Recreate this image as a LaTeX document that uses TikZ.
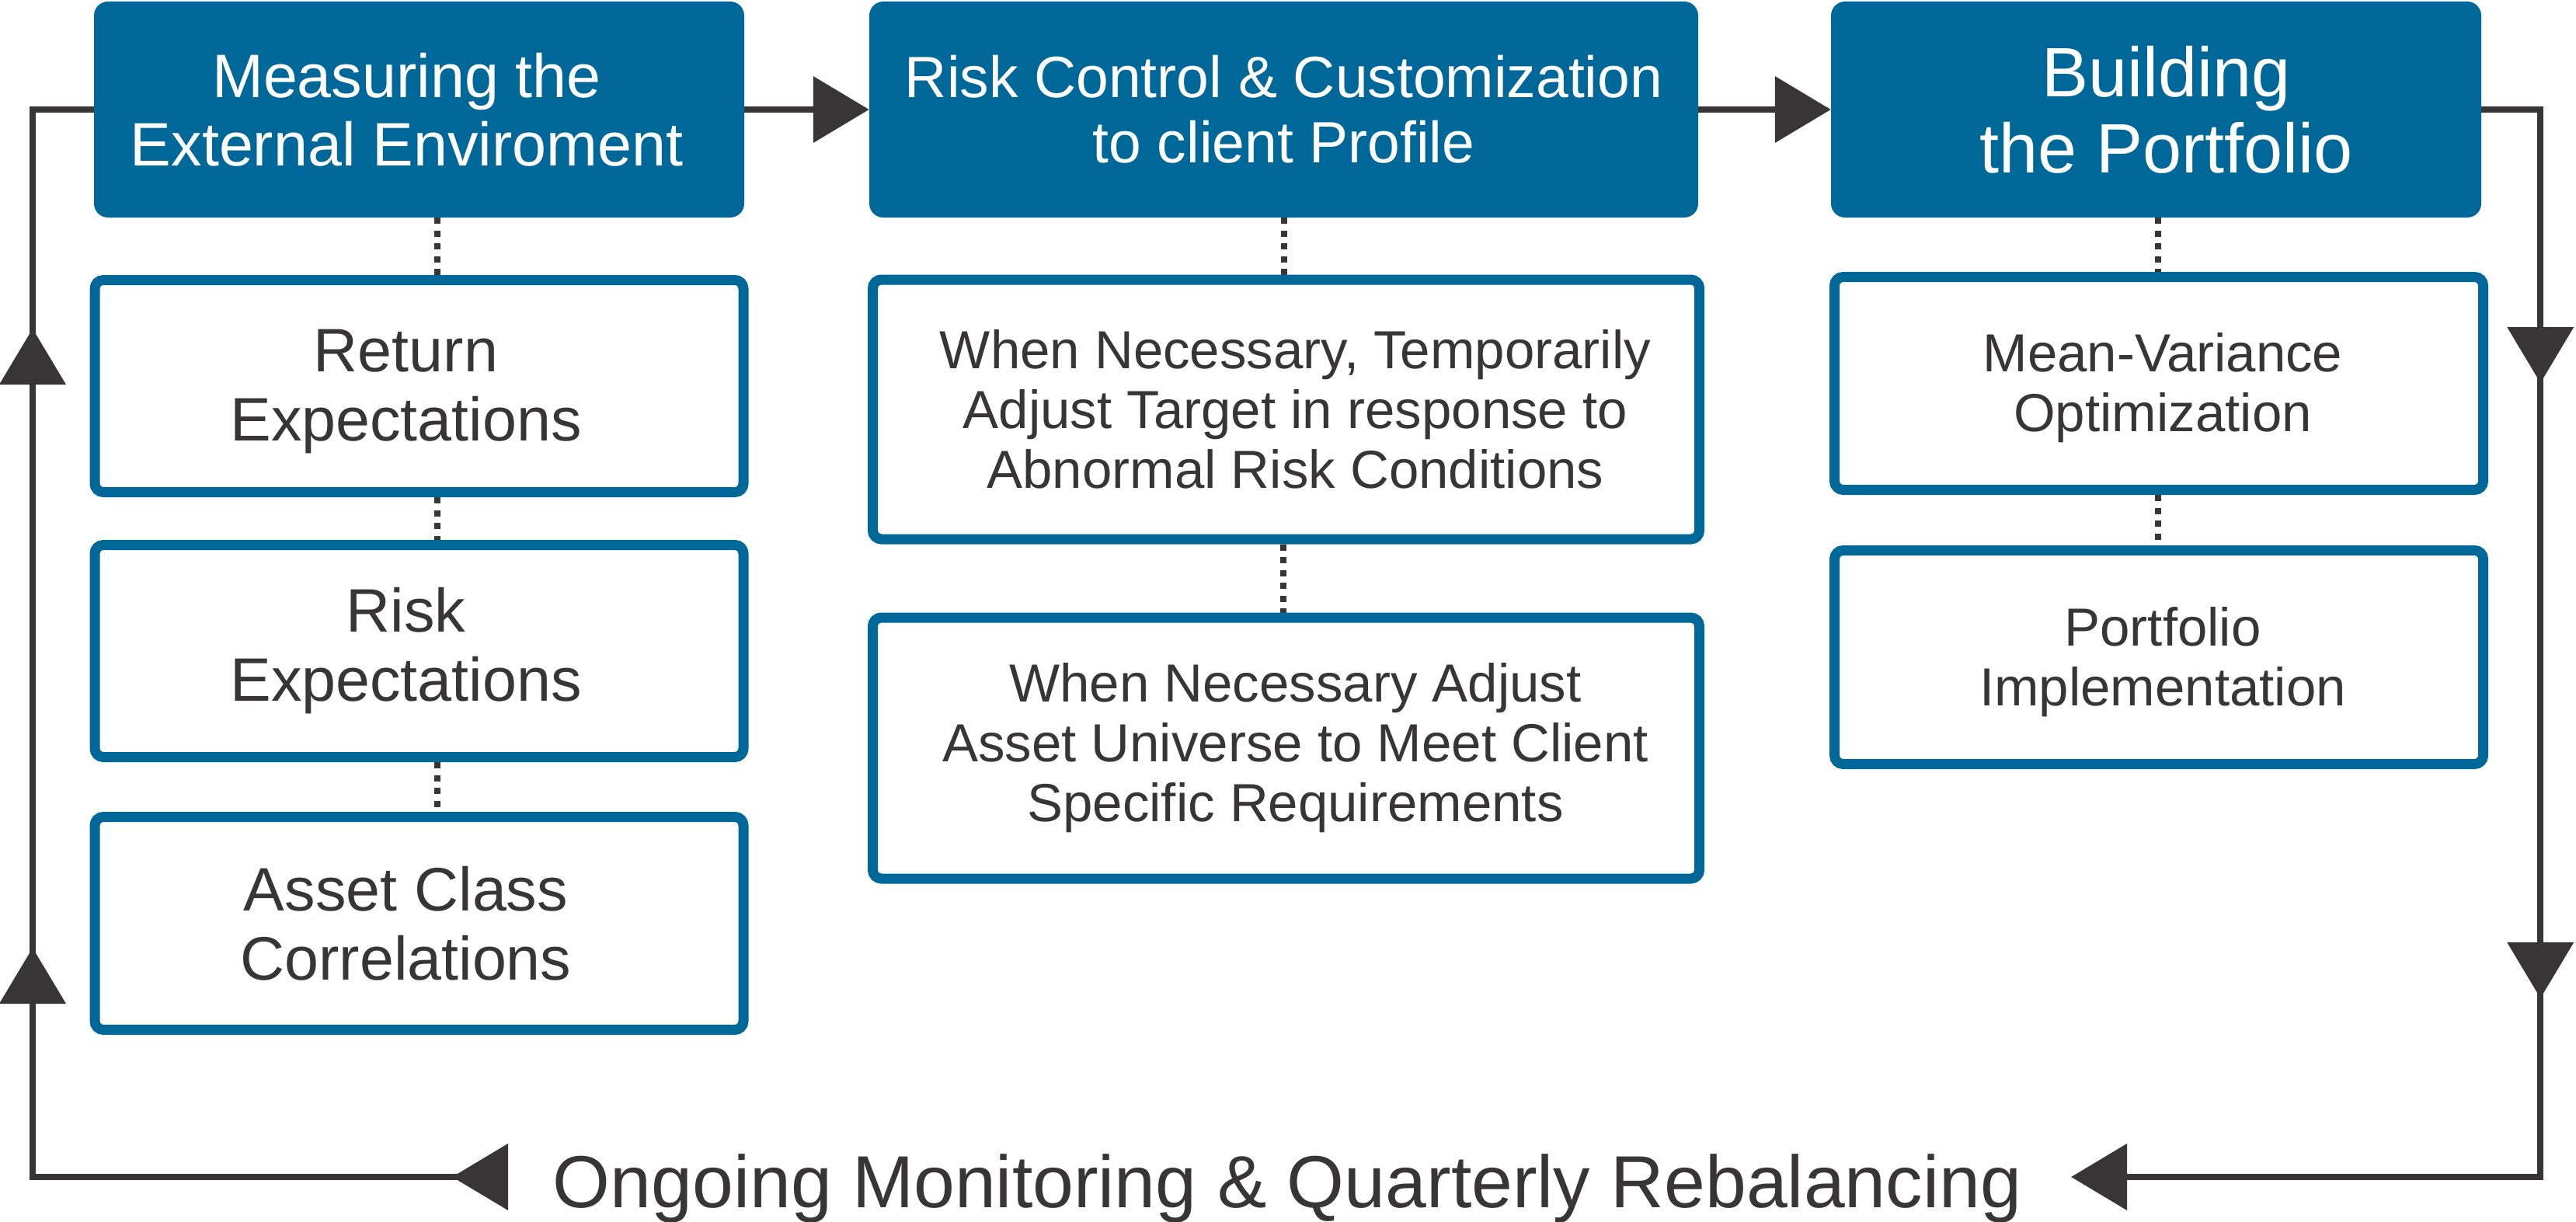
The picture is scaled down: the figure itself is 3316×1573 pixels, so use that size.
\documentclass[tikz,border=0pt]{standalone}
\usepackage{fontspec}
\setmainfont{Liberation Sans}
\usetikzlibrary{arrows.meta,decorations.markings,backgrounds}
\definecolor{hblue}{RGB}{0,104,153}
\definecolor{dgray}{RGB}{55,53,54}
\newcommand\padR[2]{\mbox{#2\hspace*{#1}}}
\newcommand\padL[2]{\mbox{\hspace*{#1}#2}}
\tikzset{
  hdr/.style={rectangle, rounded corners=18pt, fill=hblue, text=white, inner sep=0pt, align=center},
  subbox/.style={rectangle, rounded corners=11pt, draw=hblue, line width=13pt, fill=white, text=dgray, inner sep=0pt, align=center},
  flow/.style={draw=dgray, line width=8pt, line join=miter},
  dotline/.style={draw=dgray, line width=8pt, dash pattern=on 8pt off 8.5pt},
  bigtri/.tip={Triangle[length=72pt,width=84pt]},
  hfontA/.style={font=\fontsize{79}{88}\selectfont},
  hfontB/.style={font=\fontsize{75}{84}\selectfont},
  hfontC/.style={font=\fontsize{90}{98}\selectfont},
  sfontA/.style={font=\fontsize{79}{89}\selectfont},
  sfontB/.style={font=\fontsize{69}{77}\selectfont},
  sfontC/.style={font=\fontsize{69}{77}\selectfont},
}
\begin{document}
\begin{tikzpicture}[x=1pt,y=-1pt]
\useasboundingbox (0,0) rectangle (3316,1573);
% headers
\node[hdr, hfontA, minimum width=837pt, minimum height=278pt] (h1) at (539.5,141) {\padR{32pt}{Measuring the}\\\padR{32pt}{External Enviroment}};
\node[hdr, hfontB, minimum width=1067pt, minimum height=278pt] (h2) at (1652.5,141) {Risk Control \& Customization\\to client Profile};
\node[hdr, hfontC, minimum width=837pt, minimum height=278pt] (h3) at (2775.5,141) {\padL{26pt}{Building}\\\padL{26pt}{the Portfolio}};
% column 1
\node[subbox, sfontA, minimum width=835pt, minimum height=273pt] (b1) at (539.5,497) {\rule{0pt}{68pt}\padR{34pt}{Return}\\\padR{34pt}{Expectations}};
\node[subbox, sfontA, minimum width=835pt, minimum height=273pt] (b2) at (539.5,838) {\padR{34pt}{Risk}\\\padR{34pt}{Expectations}};
\node[subbox, sfontA, minimum width=835pt, minimum height=274pt] (b3) at (539.5,1188.5) {\padR{34pt}{Asset Class}\\\padR{34pt}{Correlations}};
% column 2
\node[subbox, sfontB, minimum width=1064pt, minimum height=334pt] (c1) at (1655.5,527) {\padL{24pt}{When Necessary, Temporarily}\\\padL{24pt}{Adjust Target in response to}\\\padL{24pt}{Abnormal Risk Conditions}};
\node[subbox, sfontB, minimum width=1064pt, minimum height=336pt] (c2) at (1655.5,963) {\padL{24pt}{When Necessary Adjust}\\\padL{24pt}{Asset Universe to Meet Client}\\\padL{24pt}{Specific Requirements}};
% column 3
\node[subbox, sfontC, minimum width=835pt, minimum height=274pt] (d1) at (2779,493.5) {\rule{0pt}{62pt}\padL{10pt}{Mean-Variance}\\\padL{10pt}{Optimization}};
\node[subbox, sfontC, minimum width=835pt, minimum height=275pt] (d2) at (2779,846) {\rule{0pt}{62pt}\padL{10pt}{Portfolio}\\\padL{10pt}{Implementation}};
% bottom label
\node[text=dgray, inner sep=0pt, anchor=base, font=\fontsize{95}{100}\selectfont] (bottom) at (1657,1554) {Ongoing Monitoring \& Quarterly Rebalancing};
\coordinate (lstart) at (649,1515);
\coordinate (rend) at (2666,1515);
% dotted links
\begin{scope}[on background layer]
\draw[dotline] ([xshift=23.5pt]h1.south) -- ([xshift=23.5pt]b1.north);
\draw[dotline] ([xshift=23.5pt]b1.south) -- ([xshift=23.5pt]b2.north);
\draw[dotline] ([xshift=23.5pt]b2.south) -- ([xshift=23.5pt]b3.north);
\draw[dotline] (h2.south) -- (h2.south |- c1.north);
\draw[dotline] ([xshift=-3.5pt]c1.south) -- ([xshift=-3.5pt]c2.north);
\draw[dotline] ([xshift=2.5pt]h3.south) -- ([xshift=2.5pt]h3.south |- d1.north);
\draw[dotline] ([xshift=-1pt]d1.south) -- ([xshift=-1pt]d2.north);
\end{scope}
% main flow
\draw[flow, -{bigtri}] (h1.east) -- (h2.west);
\draw[flow, -{bigtri}] (h2.east) -- (h3.west);
\draw[flow, -{bigtri}, postaction={decorate}, decoration={markings,
  mark=at position 428pt with {\arrow{bigtri}},
  mark=at position 1220pt with {\arrow{bigtri}}}]
  (h3.east) -- ++(76,0) |- (rend);
\draw[flow, postaction={decorate}, decoration={markings,
  mark=at position 67pt with {\arrow{bigtri}},
  mark=at position 902pt with {\arrow{bigtri}},
  mark=at position 1699pt with {\arrow{bigtri}}}]
  (lstart) -- ++(-607,0) |- (h1.west);
\end{tikzpicture}
\end{document}
